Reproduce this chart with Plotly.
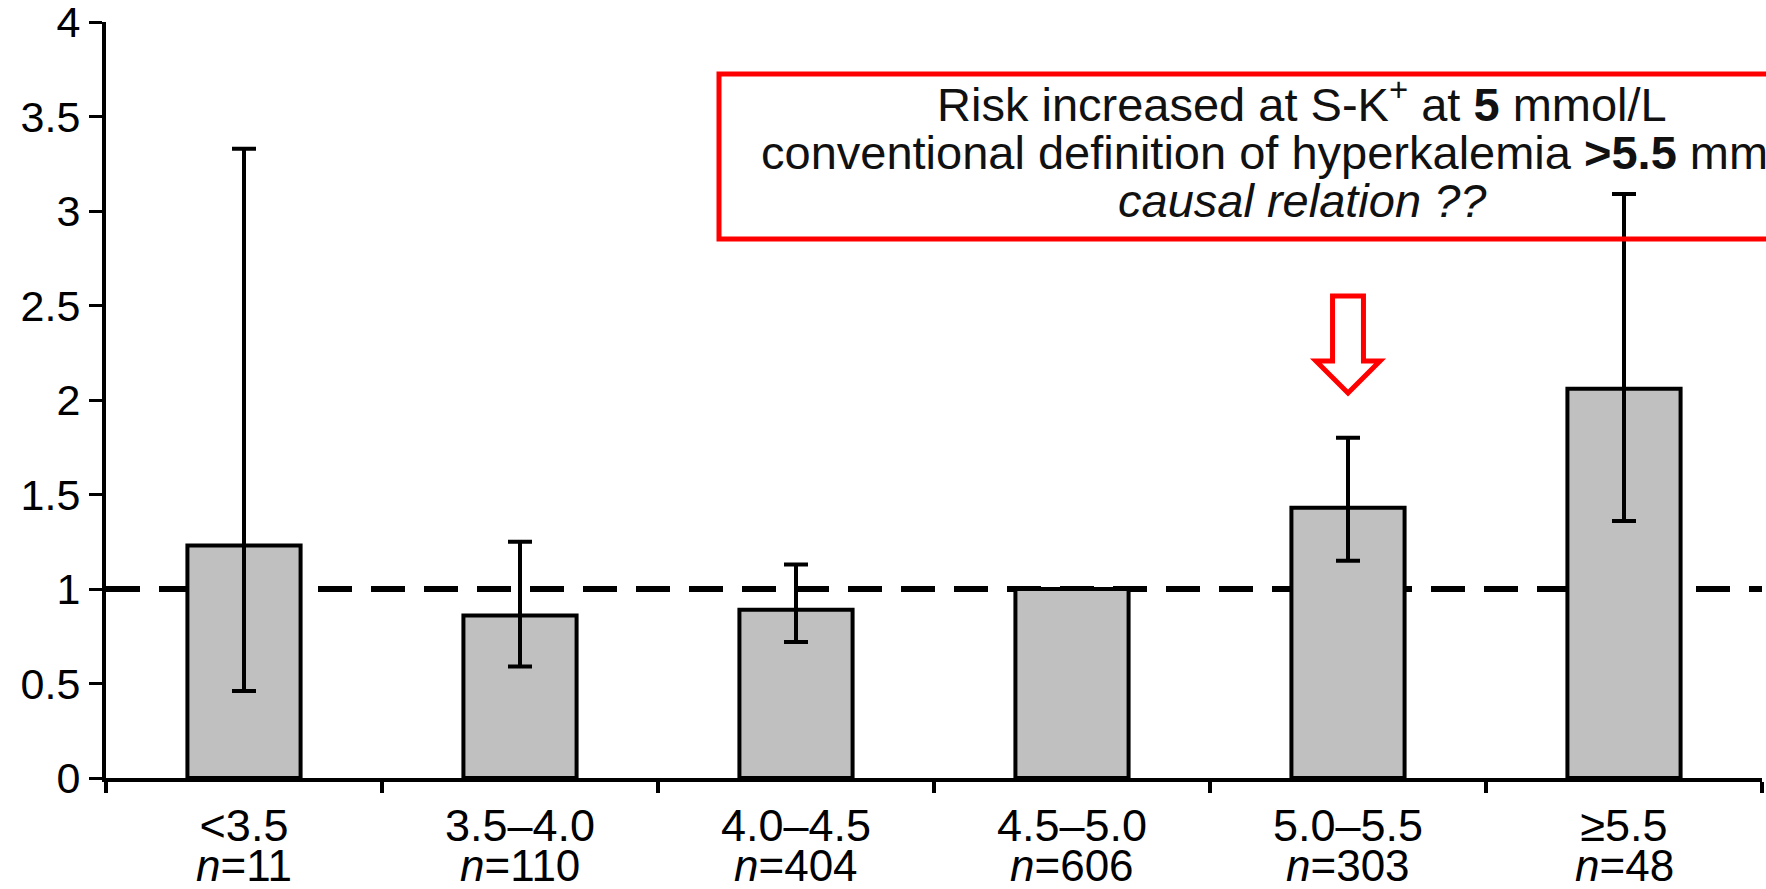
import plotly.graph_objects as go

# Serum potassium strata (mmol/L) and group sizes
categories = ["<3.5", "3.5–4.0", "4.0–4.5", "4.5–5.0", "5.0–5.5", "≥5.5"]
tick_labels = ["&lt;3.5", "3.5–4.0", "4.0–4.5", "4.5–5.0", "5.0–5.5", "≥5.5"]
n_labels = ["11", "110", "404", "606", "303", "48"]

# Relative risk with 95% confidence limits (4.5–5.0 is the reference group)
risk = [1.23, 0.86, 0.89, 1.00, 1.43, 2.06]
ci_lower = [0.46, 0.59, 0.72, 1.00, 1.15, 1.36]
ci_upper = [3.33, 1.25, 1.13, 1.00, 1.80, 3.09]

FONT = "Liberation Sans, Arial, Helvetica, sans-serif"

W, H = 1766, 889
ML, MR, MT, MB = 106, 4, 22, 111
plot_h = H - MT - MB


def paper_y(px):
    """Convert a pixel row to paper coordinates."""
    return (H - MB - px) / plot_h


def paper_x(px):
    return (px - ML) / (W - ML - MR)


fig = go.Figure()

fig.add_trace(go.Bar(
    x=categories,
    y=risk,
    marker=dict(color="#c0c0c0", line=dict(color="black", width=4)),
    error_y=dict(
        type="data",
        symmetric=False,
        array=[u - r for u, r in zip(ci_upper, risk)],
        arrayminus=[r - l for r, l in zip(risk, ci_lower)],
        color="black",
        thickness=4,
        width=12,
    ),
    showlegend=False,
    hoverinfo="skip",
))

shapes = [
    # reference line at relative risk 1
    dict(type="line", xref="paper", x0=0, x1=1, yref="y", y0=1, y1=1,
         line=dict(color="black", width=6, dash="34px,19px"), layer="below"),
    # callout box
    dict(type="rect", xref="paper", x0=paper_x(719), x1=1.2,
         yref="paper", y0=paper_y(239), y1=paper_y(74),
         line=dict(color="#ff0000", width=5), fillcolor="rgba(0,0,0,0)", layer="above"),
]

# hollow down-arrow pointing at the 5.0–5.5 group
ax = 4
sw, hw = 0.056, 0.116
y_top, y_sh, y_tip = 2.55, 2.206, 2.037
arrow_path = (
    f"M {ax - sw},{y_top} L {ax + sw},{y_top} L {ax + sw},{y_sh} "
    f"L {ax + hw},{y_sh} L {ax},{y_tip} L {ax - hw},{y_sh} L {ax - sw},{y_sh} Z"
)
shapes.append(dict(type="path", xref="x", yref="y", path=arrow_path,
                   line=dict(color="#ff0000", width=5), fillcolor="white", layer="above"))

annotations = []
box_lines = [
    ("Risk increased at S-K<sup>+</sup> at <b>5</b> mmol/L", 101),
    ("conventional definition of hyperkalemia <b>&gt;5.5</b> mmol/L", 152),
    ("<i>causal relation ??</i>", 200),
]
for txt, py in box_lines:
    annotations.append(dict(
        text=txt, xref="paper", yref="paper", x=paper_x(1302), y=paper_y(py),
        xanchor="center", yanchor="middle", showarrow=False,
        font=dict(family=FONT, size=47, color="#111111"),
    ))

for cat, n in zip(categories, n_labels):
    annotations.append(dict(
        text=f"<i>n</i>={n}", xref="x", yref="paper", x=cat, y=paper_y(866),
        xanchor="center", yanchor="middle", showarrow=False,
        font=dict(family=FONT, size=44, color="black"),
    ))

fig.update_layout(
    width=W, height=H,
    margin=dict(l=ML, r=MR, t=MT, b=MB, pad=0, autoexpand=False),
    paper_bgcolor="white", plot_bgcolor="white",
    bargap=0.59,
    font=dict(family=FONT, color="black"),
    shapes=shapes,
    annotations=annotations,
    xaxis=dict(
        type="category", range=[-0.5, 5.5], automargin=False,
        tickmode="array", tickvals=categories, ticktext=tick_labels,
        tickson="boundaries", ticks="outside", ticklen=11, tickwidth=4, tickcolor="black",
        showline=True, linewidth=4, linecolor="black", showgrid=False,
        ticklabelstandoff=5,
        tickfont=dict(family=FONT, size=45, color="black"),
    ),
    yaxis=dict(
        range=[0, 4], tickmode="linear", tick0=0, dtick=0.5, automargin=False,
        ticks="outside", ticklen=13, tickwidth=3, tickcolor="black",
        showline=True, linewidth=4, linecolor="black", showgrid=False, zeroline=False,
        ticklabeloverflow="allow",
        tickfont=dict(family=FONT, size=43, color="black"),
    ),
)

fig.write_html("out.html")
